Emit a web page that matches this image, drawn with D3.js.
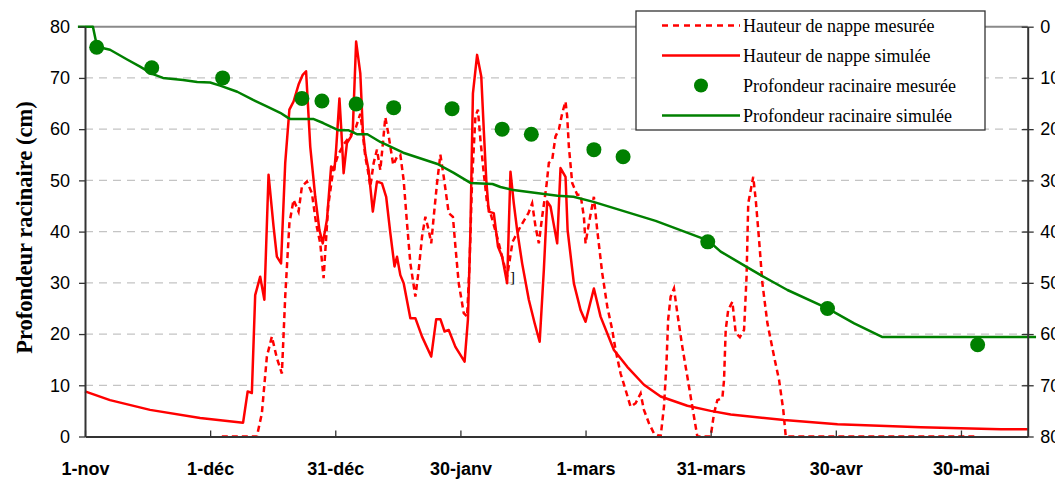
<!DOCTYPE html>
<html>
<head>
<meta charset="utf-8">
<script src="https://cdn.jsdelivr.net/npm/d3@7"></script>
<style>
  body { margin: 0; background: #fff; }
  svg { display: block; font-family: "Liberation Serif", "Times New Roman", serif; }
</style>
</head>
<body>
<svg id="chart" width="1055" height="479"></svg>
<script>
// axe des dates : un repere tous les 30 jours depuis le 1er novembre
const tickLabels = ['1-nov', '1-déc', '31-déc', '30-janv', '1-mars', '31-mars', '30-avr', '30-mai'];
const yTicks = [0, 10, 20, 30, 40, 50, 60, 70, 80];
const seriesNames = [
  'Hauteur de nappe mesurée',
  'Hauteur de nappe simulée',
  'Profondeur racinaire mesurée',
  'Profondeur racinaire simulée'
];

// [jour depuis le 1-nov, profondeur de nappe (cm, axe de droite)]
const nappeMesuree = [
  [32.8, 80], [41.2, 80], [42.4, 75.5], [43.6, 64.4], [44.8, 60.5], [46, 64.7], [47.2, 67.7],
  [48, 52.7], [49, 38.4], [50, 33.8], [51.2, 36.1], [52, 31.2], [53.2, 30.2], [54.4, 32.5],
  [55.4, 38.4], [56.4, 42.3], [57.2, 49.1], [58.3, 35], [59.5, 28], [60.7, 25], [62, 23],
  [63.4, 21.5], [64.8, 20], [66, 17], [66.4, 19.5], [67.2, 25.4], [67.8, 28], [68.4, 31.2],
  [69.2, 26.6], [70, 24], [70.8, 28], [72, 17.7], [72.7, 20.8], [73.9, 27], [74.8, 25.4],
  [75.6, 25], [76.4, 30], [77.2, 38.4], [78, 46.2], [79.2, 52.7], [80, 47.5], [80.8, 41],
  [81.6, 37.1], [82.4, 39.7], [83, 42.3], [83.6, 37.1], [84.4, 30.5], [85.2, 25], [86, 29.3],
  [87.2, 36.4], [88.2, 37.1], [88.8, 42.9], [89.6, 50.1], [90.8, 55.9], [91.6, 56.6],
  [92.2, 46.2], [92.8, 29.9], [93.6, 17.5], [94.2, 16.2], [94.8, 22.1], [95.6, 28.6],
  [96.4, 34.5], [97.2, 36.4], [98.8, 41], [100.4, 46.2], [101.2, 48.8], [102.5, 42],
  [104.4, 39], [106.3, 36.4], [107.2, 34.5], [108, 39], [108.8, 42.3], [109.6, 37.1],
  [110.6, 31.2], [111.2, 26.6], [112, 26], [112.8, 21.4], [113.6, 20.1], [114.4, 16.9],
  [115.2, 14.6], [115.6, 17.5], [116, 23.4], [116.8, 30.5], [118, 32.8], [118.8, 32.8],
  [119.6, 37.1], [120, 42.3], [120.8, 38.4], [122, 33.2], [122.8, 39.7], [124, 48.1],
  [125.2, 54.6], [126.4, 59.2], [127.2, 63.1], [128.4, 67.7], [129.6, 70.9], [130.8, 74.2],
  [132, 73.5], [133.2, 71.6], [134, 74.8], [135.2, 77.4], [136.4, 79.4], [138, 80],
  [138.8, 74.2], [139.4, 65.7], [139.8, 57.2], [140.4, 52.7], [141.2, 51.1], [142, 55.9],
  [143.2, 62.5], [144.4, 68.3], [145.6, 74.2], [146.8, 80], [150, 80], [150.8, 75.5],
  [151.6, 72.9], [152.8, 72.5], [153.2, 69], [153.6, 59.2], [154.2, 55.3], [155.2, 53.7],
  [156, 59.8], [157, 60.6], [158, 59.2], [158.6, 48.8], [159, 34.5], [159.6, 31.9],
  [160.2, 29.3], [160.8, 33.8], [161.6, 41.6], [162.4, 50.1], [163.6, 57.9], [165.2, 64.4],
  [166.4, 69], [167.4, 74.8], [168, 80], [214, 80]
];

const nappeSimulee = [
  [0, 71.2], [6, 72.9], [15.6, 74.8], [27.6, 76.4], [37.9, 77.3], [39, 71.2], [40, 71.5],
  [40.8, 52.4], [42, 48.8], [43, 53.3], [44, 28.9], [45.2, 39], [46, 44.9], [47, 46.2],
  [48, 26.6], [49, 16.2], [50, 14.6], [51.2, 11.3], [52.2, 9.4], [53, 8.7], [54, 23.4],
  [55.2, 33.2], [56.2, 39.7], [57, 42.3], [58, 37.7], [59, 27.3], [59.8, 27.9], [60.2, 24],
  [61, 14], [61.4, 19.5], [62, 28.6], [62.8, 22.7], [63.8, 21.4], [64.2, 20.1], [65, 2.9],
  [66, 9.1], [66.6, 20.1], [67.2, 24.7], [68, 28], [69, 36.1], [70, 30.2], [71.2, 30.6],
  [72.2, 33.2], [73.2, 40.3], [74.2, 46.8], [74.8, 44.9], [75.6, 48.5], [76.4, 50.1],
  [78, 56.9], [79.2, 56.9], [80.8, 60.5], [83, 64.4], [84.2, 57.1], [85.2, 57.1],
  [86.2, 59.5], [87.2, 59.2], [88.8, 62.5], [91, 65.4], [91.8, 57.2], [92.4, 39.7], [93, 13],
  [94, 5.5], [95, 9.7], [95.6, 20.1], [96.2, 29.9], [96.8, 36.1], [98, 36.4], [99, 42.9],
  [100, 44.9], [101.2, 50.1], [102, 28.3], [102.8, 34.5], [103.6, 39.7], [104.8, 46.2],
  [106.4, 53.3], [107.8, 57.9], [109, 61.5], [110, 47.5], [110.8, 34.1], [111.6, 35.1],
  [113.2, 42.3], [114, 27.6], [115.2, 29.3], [115.7, 39.7], [117.2, 50.1], [118.8, 55.3],
  [120, 57.6], [122, 51.1], [123.6, 56.6], [126.8, 63.1], [130, 66.4], [134, 69.9],
  [138, 72.2], [144.4, 74], [150, 75], [154.8, 75.7], [167.6, 76.8], [180.4, 77.6],
  [200.4, 78.2], [219.6, 78.6], [226, 78.6]
];

// [jour, profondeur racinaire (cm, axe de gauche)]
const racineMesuree = [
  [2.8, 76], [16, 72], [33, 70], [52, 66], [56.8, 65.5], [65, 64.9], [74, 64.2], [88, 64],
  [100, 60], [107, 59], [122, 56], [129, 54.6], [149.3, 38], [178, 25], [214, 17.9]
];

const racineSimulee = [
  [-1.7, 80], [1.9, 80], [2.9, 76.1], [6, 75.5], [10.1, 73.6], [13.2, 72.2], [16.1, 70.8],
  [18.7, 70], [23.5, 69.6], [26.9, 69.2], [30, 69.1], [32.4, 68.5], [36.5, 67.3], [40.3, 65.7],
  [43.7, 64.4], [46.8, 63.2], [48.7, 62.2], [49.2, 62], [54.7, 62], [57.1, 61.2], [60.7, 59.8],
  [63.1, 59.8], [65.3, 59], [67.7, 59], [70.8, 57.5], [76.3, 55.4], [84.5, 53.2], [88.3, 51.5],
  [92.4, 49.5], [97.7, 49.3], [99.6, 48.7], [102.7, 48.1], [113.3, 47], [117.1, 46.8],
  [121.9, 45.8], [136.8, 42.1], [149.3, 38.3], [152.4, 36.1], [158.4, 33.2], [162, 31.5],
  [168.4, 28.6], [178, 25], [184.4, 22.1], [191.2, 19.4], [228, 19.4]
];

const svg = d3.select('#chart');
const plot = { left: 85, right: 1027.7, top: 26.7, bottom: 436.5 };

const x = d3.scaleLinear().domain([0, 226]).range([plot.left, plot.right]);
const yLeft = d3.scaleLinear().domain([0, 80]).range([plot.bottom, plot.top]);
const yRight = d3.scaleLinear().domain([0, 80]).range([plot.top, plot.bottom]);

const red = '#ff0000';
const green = '#008000';

// grille
svg.append('g')
  .selectAll('line')
  .data(yTicks.filter(d => d > 0 && d < 80))
  .join('line')
  .attr('x1', plot.left)
  .attr('x2', plot.right)
  .attr('y1', d => yLeft(d))
  .attr('y2', d => yLeft(d))
  .attr('stroke', '#c4c4c4')
  .attr('stroke-width', 1.3)
  .attr('stroke-dasharray', '8,6');

// bord superieur du cadre
svg.append('line')
  .attr('x1', plot.left)
  .attr('x2', plot.right)
  .attr('y1', yLeft(80))
  .attr('y2', yLeft(80))
  .attr('stroke', '#8a8a8a')
  .attr('stroke-width', 2);

// courbes
const lineRight = d3.line().x(d => x(d[0])).y(d => yRight(d[1]));
const lineLeft = d3.line().x(d => x(d[0])).y(d => yLeft(d[1]));

svg.append('path')
  .attr('d', lineRight(nappeMesuree))
  .attr('fill', 'none')
  .attr('stroke', red)
  .attr('stroke-width', 2.5)
  .attr('stroke-dasharray', '6,4');

svg.append('path')
  .attr('d', lineRight(nappeSimulee))
  .attr('fill', 'none')
  .attr('stroke', red)
  .attr('stroke-width', 2.5)
  .attr('stroke-linejoin', 'round');

svg.append('path')
  .attr('d', lineLeft(racineSimulee))
  .attr('fill', 'none')
  .attr('stroke', green)
  .attr('stroke-width', 2.5)
  .attr('stroke-linejoin', 'round');

svg.append('g')
  .selectAll('circle')
  .data(racineMesuree)
  .join('circle')
  .attr('cx', d => x(d[0]))
  .attr('cy', d => yLeft(d[1]))
  .attr('r', 7.5)
  .attr('fill', green);

// petit artefact present sur l'original
svg.append('text')
  .attr('x', 510)
  .attr('y', 282)
  .attr('font-size', 15)
  .text(']');

// axes
const styleAxis = g => {
  g.select('.domain').attr('stroke', '#333').attr('stroke-width', 2);
  g.selectAll('.tick line').attr('stroke', '#333').attr('stroke-width', 1.3);
  g.selectAll('.tick text').attr('fill', '#000').attr('font-family', null);
};

const gLeft = svg.append('g')
  .attr('transform', `translate(${plot.left},0)`)
  .call(d3.axisLeft(yLeft).tickValues(yTicks).tickSize(6).tickSizeOuter(0).tickPadding(9))
  .attr('font-size', 18);
styleAxis(gLeft);

const gRight = svg.append('g')
  .attr('transform', `translate(${plot.right},0)`)
  .call(d3.axisRight(yRight).tickValues(yTicks).tickSize(6).tickSizeOuter(0).tickPadding(6.5))
  .attr('font-size', 18);
gRight.selectAll('.tick line').attr('x1', -6);
styleAxis(gRight);

const gBottom = svg.append('g')
  .attr('transform', `translate(0,${plot.bottom})`)
  .call(d3.axisBottom(x)
    .tickValues(tickLabels.map((_, i) => i * 30))
    .tickFormat((d, i) => tickLabels[i])
    .tickSize(-6)
    .tickSizeOuter(0)
    .tickPadding(26))
  .attr('font-size', 18)
  .attr('font-weight', 'bold');
styleAxis(gBottom);

// titre de l'axe
svg.append('text')
  .attr('transform', `translate(24,${(plot.top + plot.bottom) / 2 - 4}) rotate(-90)`)
  .attr('text-anchor', 'middle')
  .attr('dy', '0.35em')
  .attr('font-size', 22.5)
  .attr('font-weight', 'bold')
  .text('Profondeur racinaire (cm)');

// legende
const legend = svg.append('g').attr('transform', 'translate(636,11)');
legend.append('rect')
  .attr('width', 349)
  .attr('height', 119)
  .attr('fill', '#fff')
  .attr('stroke', '#333')
  .attr('stroke-width', 1.3);

const rows = legend.selectAll('g.row')
  .data(seriesNames)
  .join('g')
  .attr('class', 'row')
  .attr('transform', (d, i) => `translate(0,${14.5 + i * 30})`);

rows.each(function (name, i) {
  const row = d3.select(this);
  if (i === 2) {
    row.append('circle').attr('cx', 65).attr('r', 7).attr('fill', green);
  } else {
    row.append('line')
      .attr('x1', 26)
      .attr('x2', 104)
      .attr('stroke', i < 2 ? red : green)
      .attr('stroke-width', 2.5)
      .attr('stroke-dasharray', i === 0 ? '6,5' : null);
  }
  row.append('text')
    .attr('x', 107)
    .attr('dy', '0.35em')
    .attr('font-size', 18)
    .text(name);
});
</script>
</body>
</html>
